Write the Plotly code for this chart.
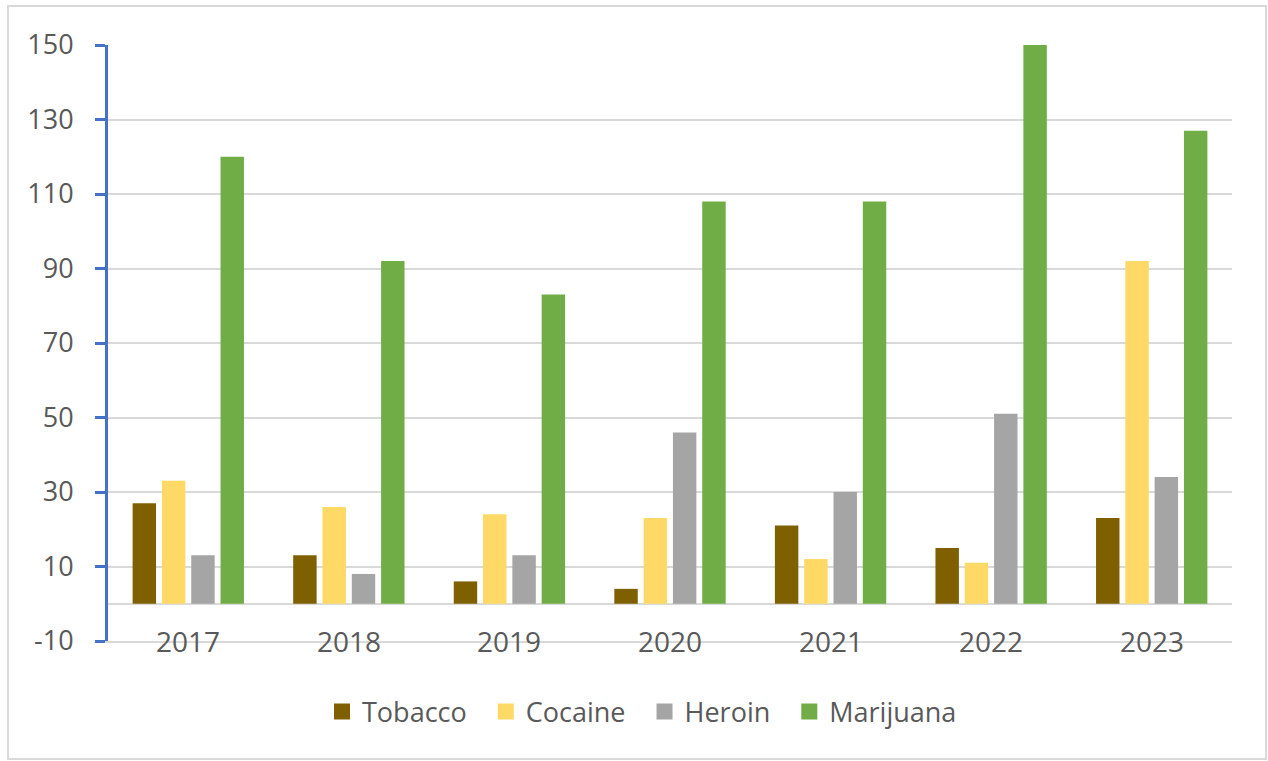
import plotly.graph_objects as go

years = ["2017", "2018", "2019", "2020", "2021", "2022", "2023"]
tobacco = [27, 13, 6, 4, 21, 15, 23]
cocaine = [33, 26, 24, 23, 12, 11, 92]
heroin = [13, 8, 13, 46, 30, 51, 34]
marijuana = [120, 92, 83, 108, 108, 150, 127]

series = [("Tobacco", tobacco, "#7F6000"),
          ("Cocaine", cocaine, "#FFD966"),
          ("Heroin", heroin, "#A5A5A5"),
          ("Marijuana", marijuana, "#70AD47")]

y_ticks = [-10, 10, 30, 50, 70, 90, 110, 130, 150]

fig = go.Figure()
for name, vals, col in series:
    fig.add_trace(go.Bar(x=years, y=vals, name=name, marker_color=col,
                         marker_line_width=0, showlegend=False))
pad = "\u00a0\u00a0"
for i, (name, vals, col) in enumerate(series):
    fig.add_trace(go.Scatter(x=[None], y=[None], mode="markers",
                             name=name + (pad if i < len(series) - 1 else ""),
                             marker=dict(symbol="square", size=17, color=col)))

font_fam = "Open Sans, DejaVu Sans, sans-serif"
txt_col = "#595959"

for i, yr in enumerate(years):
    fig.add_annotation(x=i, y=y_ticks[0], xref="x", yref="y", text=yr, showarrow=False,
                       yanchor="middle", xanchor="center",
                       font=dict(family=font_fam, size=28, color=txt_col))

fig.update_layout(
    width=1268, height=761,
    margin=dict(l=108, r=36, t=45, b=120),
    paper_bgcolor="white", plot_bgcolor="white",
    barmode="group", bargap=0.27, bargroupgap=0.2,
    font=dict(family=font_fam, color=txt_col),
    legend=dict(orientation="h", x=0.5 + 8/1268, xanchor="center", xref="container",
                y=1 - 712/761, yref="container", yanchor="middle",
                font=dict(family=font_fam, size=27, color=txt_col),
                itemsizing="trace", traceorder="normal"),
    xaxis=dict(type="category", showticklabels=False, showgrid=False,
               showline=True, linecolor="#D9D9D9", linewidth=2,
               ticks="", range=[-0.5, 6.5]),
    yaxis=dict(range=[-10, 150], tickvals=y_ticks, ticktext=[str(v) for v in y_ticks],
               showgrid=True, gridcolor="#D9D9D9", gridwidth=2,
               zeroline=True, zerolinecolor="#D9D9D9", zerolinewidth=2,
               showline=True, linecolor="#4472C4", linewidth=3,
               ticks="outside", ticklen=10, tickwidth=3, tickcolor="#4472C4",
               ticklabelstandoff=16,
               tickfont=dict(family=font_fam, size=27, color=txt_col)),
)

fig.add_shape(type="rect", xref="paper", yref="paper",
              x0=(8-108)/1124, x1=(1266-108)/1124,
              y0=1 + (45-759)/596, y1=1 + (45-6)/596,
              line=dict(color="#D9D9D9", width=2), fillcolor="rgba(0,0,0,0)", layer="below")

fig.write_html("out.html", config={"displayModeBar": False},
               post_script="document.body.style.margin='0';")
